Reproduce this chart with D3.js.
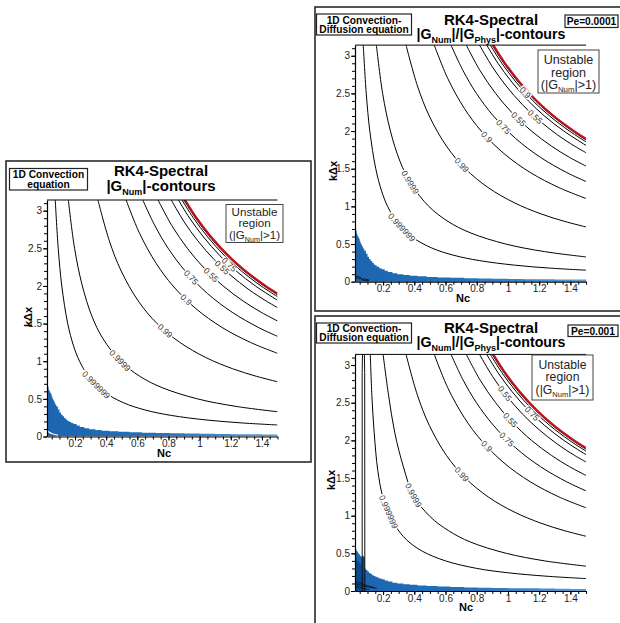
<!DOCTYPE html>
<html>
<head>
<meta charset="utf-8">
<script src="https://cdn.jsdelivr.net/npm/d3@7"></script>
<style>
  body { margin: 0; background: #fff; }
  svg { display: block; font-family: "Liberation Sans", Arial, Helvetica, sans-serif; }
  text { opacity: 0.99; }
</style>
</head>
<body>
<svg id="fig" width="620" height="623"></svg>
<script>
// ---- axes ----
const ncDomain = [0.02, 1.5];
const kDomain = [0, Math.PI];
const xTickValues = [0.2, 0.4, 0.6, 0.8, 1, 1.2, 1.4];
const xTickLabels = ["0.2", "0.4", "0.6", "0.8", "1", "1.2", "1.4"];
const yTickValues = [0, 0.5, 1, 1.5, 2, 2.5, 3];
const yTickLabels = ["0", "0.5", "1", "1.5", "2", "2.5", "3"];

// ---- contour levels of |G| (Nc, kΔx) ----
const contourLevels = ["0.999999", "0.9999", "0.99", "0.9", "0.75", "0.55", "0.55", "0.75", "0.9", "0.99"];
const contour999999 = [[0.073,3.1416],[0.092,2.5],[0.115,2.0],[0.153,1.5],[0.191,1.2],[0.229,1.0],[0.286,0.8],[0.382,0.6],[0.509,0.45],[0.654,0.35],[0.818,0.28],[1.041,0.22],[1.272,0.18],[1.5,0.153]];
const contour9999 = [[0.157,3.1416],[0.197,2.5],[0.247,2.0],[0.308,1.6],[0.379,1.3],[0.493,1.0],[0.616,0.8],[0.758,0.65],[0.986,0.5],[1.233,0.4],[1.5,0.329]];
const contour99 = [[0.347,3.1416],[0.420,2.6],[0.496,2.2],[0.606,1.8],[0.727,1.5],[0.873,1.25],[1.039,1.05],[1.212,0.9],[1.364,0.8],[1.5,0.727]];
const contour9a = [[0.528,3.1416],[0.614,2.7],[0.721,2.3],[0.829,2.0],[0.975,1.7],[1.143,1.45],[1.326,1.25],[1.5,1.105]];
const contour75a = [[0.635,3.1416],[0.713,2.8],[0.798,2.5],[0.907,2.2],[1.050,1.9],[1.209,1.65],[1.376,1.45],[1.5,1.33]];
const contour55a = [[0.733,3.1416],[0.822,2.8],[0.921,2.5],[1.023,2.25],[1.151,2.0],[1.279,1.8],[1.395,1.65],[1.5,1.535]];
const contour55b = [[0.818,3.1416],[0.901,2.85],[0.988,2.6],[1.093,2.35],[1.195,2.15],[1.317,1.95],[1.427,1.8],[1.5,1.713]];
const contour75b = [[0.864,3.1416],[0.936,2.9],[1.025,2.65],[1.131,2.4],[1.234,2.2],[1.358,2.0],[1.5,1.81]];
const contour9b = [[0.887,3.1416],[0.961,2.9],[1.052,2.65],[1.161,2.4],[1.267,2.2],[1.394,2.0],[1.5,1.858]];
const contour99b = [[0.899,3.1416],[0.974,2.9],[1.066,2.65],[1.177,2.4],[1.284,2.2],[1.413,2.0],[1.5,1.883]];
// |G| = 1 boundary of the unstable region
const stabilityLimit = [[0.906,3.1416],[0.981,2.9],[1.074,2.65],[1.185,2.4],[1.293,2.2],[1.423,2.0],[1.5,1.897]];

// Pe = 0.001: the two innermost levels bend towards larger Nc
const contour999999Pe001 = [[0.118,3.1416],[0.128,2.6],[0.143,2.1],[0.166,1.6],[0.198,1.25],[0.234,1.05],[0.28,0.86],[0.35,0.68],[0.45,0.53],[0.6,0.4],[0.8,0.3],[1.0,0.242],[1.25,0.196],[1.5,0.165]];
const contour9999Pe001 = [[0.2,3.1416],[0.235,2.6],[0.275,2.1],[0.33,1.65],[0.394,1.27],[0.5,0.99],[0.62,0.8],[0.76,0.65],[0.99,0.5],[1.235,0.4],[1.5,0.33]];

// label anchors along each line: [line index, Nc]
const labelsConvection = [[0,0.335],[1,0.489],[2,0.778],[3,0.913],[4,0.945],[5,1.073],[6,1.144],[7,1.189]];
const labelsPe0001 = [[0,0.319],[1,0.373],[2,0.704],[3,0.864],[4,0.971],[5,1.067],[6,1.174],[8,1.11]];
const labelsPe001 = [[0,0.234],[1,0.394],[2,0.704],[3,0.864],[4,0.992],[5,1.014],[6,0.98],[7,1.153]];

// ---- low-wavenumber region (blue fill) ----
const blueConvection = [[0.02,0.69],[0.025,0.66],[0.03,0.62],[0.035,0.6],[0.04,0.58],[0.045,0.56],[0.05,0.53],[0.055,0.5],[0.06,0.48],[0.065,0.46],[0.07,0.44],[0.075,0.42],[0.08,0.40],[0.09,0.36],[0.1,0.32],[0.11,0.29],[0.12,0.27],[0.13,0.245],[0.14,0.225],[0.15,0.21],[0.16,0.195],[0.175,0.18],[0.19,0.165],[0.21,0.145],[0.23,0.125],[0.26,0.11],[0.29,0.097],[0.33,0.085],[0.37,0.077],[0.42,0.07],[0.48,0.062],[0.55,0.056],[0.63,0.05],[0.72,0.046],[0.81,0.042],[0.9,0.039],[1.0,0.036],[1.1,0.033],[1.2,0.031],[1.3,0.029],[1.4,0.027],[1.5,0.026]];
const bluePe0001 = [[0.02,0.73],[0.025,0.68],[0.03,0.64],[0.035,0.61],[0.04,0.59],[0.045,0.57],[0.05,0.54],[0.055,0.51],[0.06,0.49],[0.065,0.47],[0.07,0.45],[0.075,0.43],[0.08,0.41],[0.09,0.37],[0.1,0.33],[0.11,0.3],[0.12,0.275],[0.13,0.25],[0.14,0.23],[0.15,0.215],[0.16,0.2],[0.175,0.18],[0.19,0.165],[0.21,0.145],[0.23,0.128],[0.26,0.112],[0.29,0.1],[0.33,0.088],[0.37,0.079],[0.42,0.071],[0.48,0.063],[0.55,0.057],[0.63,0.051],[0.72,0.047],[0.81,0.043],[0.9,0.04],[1.0,0.037],[1.1,0.034],[1.2,0.032],[1.3,0.03],[1.4,0.028],[1.5,0.027]];
const bluePe001 = [[0.02,0.56],[0.025,0.55],[0.03,0.53],[0.035,0.52],[0.04,0.5],[0.045,0.49],[0.05,0.47],[0.055,0.46],[0.06,0.45],[0.067,0.47],[0.075,0.45],[0.082,0.3],[0.09,0.28],[0.1,0.26],[0.11,0.24],[0.12,0.225],[0.13,0.21],[0.14,0.2],[0.15,0.19],[0.16,0.18],[0.175,0.165],[0.19,0.155],[0.21,0.14],[0.23,0.125],[0.26,0.11],[0.29,0.1],[0.33,0.09],[0.37,0.082],[0.42,0.074],[0.48,0.066],[0.55,0.059],[0.63,0.053],[0.72,0.048],[0.81,0.044],[0.9,0.041],[1.0,0.038],[1.1,0.035],[1.2,0.032],[1.3,0.03],[1.4,0.028],[1.5,0.027]];
const navyPe001 = [[0.02,0.44],[0.025,0.43],[0.03,0.41],[0.035,0.4],[0.04,0.39],[0.045,0.38],[0.05,0.37],[0.055,0.36],[0.06,0.35],[0.067,0.46],[0.075,0.44],[0.082,0]];
// thin traces inside the blue fill
const whiteTraceConvection = [[0.02,0.075],[0.035,0.055],[0.05,0.04],[0.07,0.027],[0.09,0.018]];
const loopsPe0001 = [
  [[0.025,0.07],[0.04,0.065],[0.06,0.05],[0.05,0.04],[0.035,0.05],[0.025,0.07]],
  [[0.06,0.03],[0.08,0.035],[0.11,0.02],[0.09,0.012],[0.06,0.03]]
];
const loopsPe001 = [
  [[0.02,0.1],[0.05,0.08],[0.09,0.06],[0.13,0.045],[0.16,0.035]],
  [[0.02,0.06],[0.05,0.05],[0.08,0.03],[0.11,0.02]],
  [[0.03,0.12],[0.06,0.1],[0.1,0.07],[0.14,0.05]]
];
const verticalPe001 = [[0.066,0],[0.066,2.9],[0.068,3.1416]];
const verticalPe001b = [[0.083,0],[0.082,2.9],[0.08,3.1416]];

const contourSets = {
  convection: [contour999999, contour9999, contour99, contour9a, contour75a, contour55a, contour55b, contour75b, contour9b, contour99b],
  pe0001: [contour999999, contour9999, contour99, contour9a, contour75a, contour55a, contour55b, contour75b, contour9b, contour99b],
  pe001: [contour999999Pe001, contour9999Pe001, contour99, contour9a, contour75a, contour55a, contour55b, contour75b, contour9b, contour99b]
};

// ---- panel layout ----
const panels = [
  {
    id: "conv", frame: [6, 161, 311, 462], xr: [47, 277.5], yr: [436.5, 200],
    titleX: 161, titleY: [176, 191], ratio: false,
    eq: { rect: [9.5, 168.5, 78, 21.5], lines: ["1D Convection", "equation"], base: [178, 188] },
    pe: null,
    unstable: { rect: [226, 204.5, 57, 38], base: [215.5, 227, 239], size: 11.6 },
    ncLabel: [164, 457], kLabel: [28, 317],
    contours: contourSets.convection, labels: labelsConvection,
    blue: blueConvection, navy: null, white: whiteTraceConvection, loops: [], verticals: []
  },
  {
    id: "pe4", frame: [315, 7, 626, 311], xr: [355, 586], yr: [281.7, 45.1],
    titleX: 491, titleY: [25, 39], ratio: true,
    eq: { rect: [316.5, 14, 95, 21], lines: ["1D Convection-", "Diffusion equation"], base: [23.5, 33] },
    pe: { rect: [565, 15, 53, 12.5], text: "Pe=0.0001", base: 25 },
    unstable: { rect: [538, 50, 61, 43], base: [64, 76.5, 89], size: 12.6 },
    ncLabel: [463, 302], kLabel: [333, 171],
    contours: contourSets.pe0001, labels: labelsPe0001,
    blue: bluePe0001, navy: null, white: null, loops: loopsPe0001, verticals: []
  },
  {
    id: "pe3", frame: [315, 316, 626, 630], xr: [355, 586], yr: [591, 354.4],
    titleX: 491, titleY: [333, 347], ratio: true,
    eq: { rect: [316.5, 323, 95, 20], lines: ["1D Convection-", "Diffusion equation"], base: [332, 341] },
    pe: { rect: [568, 325, 50, 11.5], text: "Pe=0.001", base: 334.5 },
    unstable: { rect: [532, 355, 61, 45], base: [369, 381, 394], size: 12.2 },
    ncLabel: [466, 611], kLabel: [331, 480],
    contours: contourSets.pe001, labels: labelsPe001,
    blue: bluePe001, navy: navyPe001, white: null, loops: loopsPe001, verticals: [verticalPe001, verticalPe001b]
  }
];

const svg = d3.select("#fig");
const defs = svg.append("defs");

function drawPanel(p) {
  const g = svg.append("g").attr("id", p.id);
  const [fx0, fy0, fx1, fy1] = p.frame;
  g.append("rect")
    .attr("x", fx0).attr("y", fy0).attr("width", fx1 - fx0).attr("height", fy1 - fy0)
    .attr("fill", "#fff").attr("stroke", "#2a2a2a").attr("stroke-width", 1.6);

  const x = d3.scaleLinear().domain(ncDomain).range(p.xr);
  const y = d3.scaleLinear().domain(kDomain).range(p.yr);

  const clipId = "clip-" + p.id;
  defs.append("clipPath").attr("id", clipId).append("rect")
    .attr("x", p.xr[0]).attr("y", p.yr[1]).attr("width", p.xr[1] - p.xr[0]).attr("height", p.yr[0] - p.yr[1]);

  const gradId = "grad-" + p.id;
  const grad = defs.append("linearGradient").attr("id", gradId)
    .attr("gradientUnits", "userSpaceOnUse")
    .attr("x1", p.xr[0]).attr("x2", p.xr[1]).attr("y1", 0).attr("y2", 0);
  grad.append("stop").attr("offset", "0").attr("stop-color", "#1c65b0");
  grad.append("stop").attr("offset", "0.45").attr("stop-color", "#2270ba");
  grad.append("stop").attr("offset", "1").attr("stop-color", "#5d9ad4");

  const plot = g.append("g").attr("clip-path", `url(#${clipId})`);

  const area = d3.area().x(d => x(d[0])).y0(y(0)).y1(d => y(d[1])).curve(d3.curveStepAfter);
  plot.append("path").attr("d", area(p.blue)).attr("fill", `url(#${gradId})`);
  if (p.navy) plot.append("path").attr("d", area(p.navy)).attr("fill", "#0c4a90");

  const smooth = d3.line().x(d => x(d[0])).y(d => y(d[1])).curve(d3.curveCatmullRom.alpha(0.5));
  if (p.white) plot.append("path").attr("d", smooth(p.white)).attr("fill", "none").attr("stroke", "#fff").attr("stroke-width", 1.2);
  p.loops.forEach(l => plot.append("path").attr("d", smooth(l)).attr("fill", "none").attr("stroke", "#111").attr("stroke-width", 0.9));
  p.verticals.forEach(l => plot.append("path").attr("d", d3.line().x(d => x(d[0])).y(d => y(d[1]))(l))
    .attr("fill", "none").attr("stroke", "#111").attr("stroke-width", 1));

  const paths = p.contours.map(pts => plot.append("path")
    .attr("d", smooth(pts)).attr("fill", "none").attr("stroke", "#000").attr("stroke-width", 1));
  plot.append("path").attr("d", smooth(stabilityLimit)).attr("fill", "none")
    .attr("stroke", "#c0141c").attr("stroke-width", 2.2);

  // contour labels placed along the drawn lines, on a white patch that breaks the line
  p.labels.forEach(([idx, nc]) => {
    const node = paths[idx].node();
    const total = node.getTotalLength();
    const tx = x(nc);
    let lo = 0, hi = total;
    for (let i = 0; i < 40; i++) {
      const mid = (lo + hi) / 2;
      if (node.getPointAtLength(mid).x < tx) lo = mid; else hi = mid;
    }
    const pt = node.getPointAtLength(lo);
    const a = node.getPointAtLength(Math.max(0, lo - 4));
    const b = node.getPointAtLength(Math.min(total, lo + 4));
    let ang = Math.atan2(b.y - a.y, b.x - a.x) * 180 / Math.PI;
    if (ang > 90) ang -= 180;
    if (ang < -90) ang += 180;
    const lg = g.append("g").attr("transform", `translate(${pt.x},${pt.y}) rotate(${ang})`);
    const bg = lg.append("rect").attr("fill", "#fff");
    const t = lg.append("text")
      .attr("text-anchor", "middle").attr("dy", "0.34em")
      .attr("font-size", 8.5).attr("fill", "#333")
      .text(contourLevels[idx]);
    const w = t.node().getComputedTextLength() + 2;
    bg.attr("x", -w / 2).attr("y", -3.5).attr("width", w).attr("height", 7);
  });

  // plot frame: top line, axes
  g.append("line").attr("x1", p.xr[0]).attr("x2", p.xr[1]).attr("y1", p.yr[1]).attr("y2", p.yr[1])
    .attr("stroke", "#000").attr("stroke-width", 1);

  const yMinor = d3.range(0, 3.15, 0.1);
  const xMinor = d3.range(0.05, 1.51, 0.05);
  g.append("g").attr("transform", `translate(${p.xr[0]},0)`)
    .call(d3.axisLeft(y).tickValues(yMinor).tickSize(3).tickSizeOuter(0).tickFormat(""))
    .call(s => s.select(".domain").remove());
  g.append("g").attr("transform", `translate(0,${p.yr[0]})`)
    .call(d3.axisBottom(x).tickValues(xMinor).tickSize(3).tickSizeOuter(0).tickFormat(""))
    .call(s => s.select(".domain").remove());

  const yAxis = g.append("g").attr("transform", `translate(${p.xr[0]},0)`)
    .call(d3.axisLeft(y).tickValues(yTickValues).tickSize(4).tickSizeOuter(0).tickPadding(1)
      .tickFormat((d, i) => yTickLabels[i]));
  const xAxis = g.append("g").attr("transform", `translate(0,${p.yr[0]})`)
    .call(d3.axisBottom(x).tickValues(xTickValues).tickSize(4).tickSizeOuter(0).tickPadding(-0.5)
      .tickFormat((d, i) => xTickLabels[i]));
  [yAxis, xAxis].forEach(ax => {
    ax.selectAll("text").attr("font-size", 10).attr("fill", "#222").attr("font-family", "Liberation Sans, Arial, sans-serif");
    ax.select(".domain").attr("stroke", "#000").attr("stroke-width", 1.2);
  });
  g.selectAll(".tick line").attr("stroke", "#000");

  g.append("text").attr("x", p.ncLabel[0]).attr("y", p.ncLabel[1]).attr("text-anchor", "middle")
    .attr("font-weight", "bold").attr("font-size", 11).text("Nc");
  g.append("text").attr("transform", `translate(${p.kLabel[0]},${p.kLabel[1]}) rotate(-90)`)
    .attr("text-anchor", "middle").attr("dy", "0.35em")
    .attr("font-weight", "bold").attr("font-size", 11).text("kΔx");

  // title
  g.append("text").attr("x", p.titleX).attr("y", p.titleY[0]).attr("text-anchor", "middle")
    .attr("font-weight", "bold").attr("font-size", 15).text("RK4-Spectral");
  const t2 = g.append("text").attr("x", p.titleX).attr("y", p.titleY[1]).attr("text-anchor", "middle")
    .attr("font-weight", "bold").attr("font-size", p.ratio ? 14.2 : 15);
  t2.append("tspan").text("|G");
  t2.append("tspan").attr("font-size", 9).attr("dy", 3.5).text("Num");
  if (p.ratio) {
    t2.append("tspan").attr("dy", -3.5).text("|/|G");
    t2.append("tspan").attr("font-size", 9).attr("dy", 3.5).text("Phys");
  }
  t2.append("tspan").attr("dy", -3.5).text("|-contours");

  // equation box
  const e = p.eq;
  g.append("rect").attr("x", e.rect[0]).attr("y", e.rect[1]).attr("width", e.rect[2]).attr("height", e.rect[3])
    .attr("fill", "#fff").attr("stroke", "#222").attr("stroke-width", 1.2);
  e.lines.forEach((s, i) => g.append("text").attr("x", e.rect[0] + e.rect[2] / 2).attr("y", e.base[i])
    .attr("text-anchor", "middle").attr("font-weight", "bold").attr("font-size", 10.2).text(s));

  if (p.pe) {
    const q = p.pe;
    g.append("rect").attr("x", q.rect[0]).attr("y", q.rect[1]).attr("width", q.rect[2]).attr("height", q.rect[3])
      .attr("fill", "#fff").attr("stroke", "#222").attr("stroke-width", 1.2);
    g.append("text").attr("x", q.rect[0] + q.rect[2] / 2).attr("y", q.base)
      .attr("text-anchor", "middle").attr("font-weight", "bold").attr("font-size", 10.2).text(q.text);
  }

  // unstable region note
  const u = p.unstable;
  g.append("rect").attr("x", u.rect[0]).attr("y", u.rect[1]).attr("width", u.rect[2]).attr("height", u.rect[3])
    .attr("fill", "#fff").attr("stroke", "#444").attr("stroke-width", 1);
  const cx = u.rect[0] + u.rect[2] / 2;
  g.append("text").attr("x", cx).attr("y", u.base[0]).attr("text-anchor", "middle").attr("font-size", u.size).attr("fill", "#222").text("Unstable");
  g.append("text").attr("x", cx).attr("y", u.base[1]).attr("text-anchor", "middle").attr("font-size", u.size).attr("fill", "#222").text("region");
  const t3 = g.append("text").attr("x", cx).attr("y", u.base[2]).attr("text-anchor", "middle").attr("font-size", u.size).attr("fill", "#222");
  t3.append("tspan").text("(|G");
  t3.append("tspan").attr("font-size", u.size * 0.62).attr("dy", 2.5).text("Num");
  t3.append("tspan").attr("dy", -2.5).text("|>1)");
}

panels.forEach(drawPanel);
</script>
</body>
</html>
